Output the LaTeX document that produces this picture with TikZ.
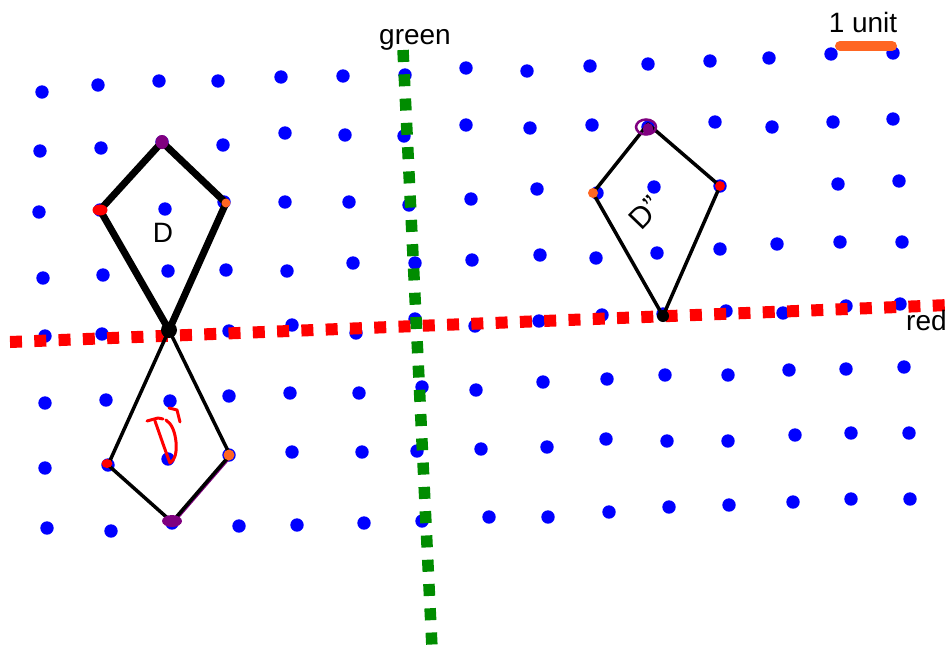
\documentclass[tikz,border=0pt]{standalone}
\usepackage{fontspec}
\setmainfont{Liberation Sans}
\definecolor{dotblue}{RGB}{0,0,255}
\definecolor{linered}{RGB}{255,0,0}
\definecolor{linegreen}{RGB}{0,140,0}
\definecolor{barorange}{RGB}{255,102,34}
\definecolor{vpurple}{RGB}{128,0,128}
\tikzset{
  bdot/.style={fill=dotblue},
  reddash/.style={draw=linered,line width=12,dash pattern=on 12 off 12.3},
  greendash/.style={draw=linegreen,line width=11.5,dash pattern=on 12 off 12.3},
  thickkite/.style={draw=black,line width=7,line join=round},
  thinkite/.style={draw=black,line width=3.5,line join=round},
  lbl/.style={font=\fontsize{28}{30}\selectfont,inner sep=0,anchor=base},
  pen/.style={line width=3,line cap=round,line join=round}
}
\begin{document}
\begin{tikzpicture}[x=1pt,y=-1pt]
\useasboundingbox[fill=white] (0,0) rectangle (949,648);
% blue dot grid
\foreach \p in {
 (42,92),(98,85),(159,81),(218,81),(281,77),(343,76),(405,75),(466,68),(527,71),(590,66),(648,64),(710,61),(769,58),(831,54),(893,53),
 (40,151),(101,148),(162,142),(223,145),(285,133),(345,135),(404,136),(466,125),(530,128),(592,125),(648,127),(715,122),(772,127),(833,122),(893,119),
 (39,212),(100,210),(165,209),(224,202),(285,202),(349,202),(409,205),(471,199),(537,189),(597,193),(654,187),(720,186),(838,184),(899,181),
 (43,278),(103,275),(168,271),(226,270),(287,271),(353,263),(415,263),(472,260),(540,255),(596,258),(657,253),(720,249),(777,244),(840,242),(902,242),
 (45,336),(102,334),(169,330),(229,331),(292,325),(356,333),(415,319),(475,326),(539,321),(602,315),(663,314),(726,311),(783,313),(846,306),(900,304),
 (45,403),(106,400),(170,401),(229,396),(290,393),(359,393),(422,387),(476,390),(543,382),(607,379),(665,375),(728,375),(789,370),(846,369),(904,367),
 (45,468),(108,465),(168,459),(229,455),(292,452),(362,452),(417,451),(481,449),(547,447),(606,439),(667,441),(728,441),(795,435),(851,433),(909,433),
 (47,528),(111,531),(172,523),(239,526),(297,525),(364,523),(422,521),(489,517),(548,517),(609,512),(669,507),(729,505),(793,502),(851,499),(910,499)}
 \fill[bdot] \p circle (6.7);
% mirror lines
\coordinate (r1) at (10,342);
\coordinate (r2) at (949,305);
\coordinate (g1) at (403,50);
\coordinate (g2) at (432,648);
\draw[reddash] (r1) -- (r2);
\draw[greendash] (g1) -- (g2);
% scale bar
\coordinate (s1) at (840,46);
\coordinate (s2) at (892,46);
\draw[barorange,line width=10,line cap=round] (s1) -- (s2);
% kite D
\coordinate (dT) at (162,142);
\coordinate (dL) at (100,210);
\coordinate (dR) at (226,203);
\coordinate (dB) at (169,330);
\draw[thickkite] (dT) -- (dR) -- (dB) -- (dL) -- cycle;
% kite D'
\coordinate (pL) at (108,465);
\coordinate (pR) at (230,455);
\coordinate (pB) at (172,522);
\draw[vpurple,line width=2] ([xshift=1.5pt,yshift=-1pt]pB) -- ([xshift=1.5pt,yshift=-1pt]pR);
\draw[thinkite] (dB) -- (pR) -- (pB) -- (pL) -- cycle;
% kite D''
\coordinate (qT) at (648,124);
\coordinate (qL) at (593,193);
\coordinate (qR) at (720,186);
\coordinate (qB) at (663,316);
\draw[thinkite] (qT) -- (qR) -- (qB) -- (qL) -- cycle;
% vertex markers
\fill[vpurple] (dT) ellipse (6.5 and 7);
\fill[linered] (dL) ellipse (7.5 and 5.5);
\fill[barorange] (dR) circle (4.5);
\fill[black] (dB) circle (8);
\fill[linered] ([xshift=-1pt,yshift=1.5pt]pL) ellipse (5.5 and 4.5);
\fill[barorange] ([xshift=-1pt]pR) circle (5.5);
\fill[vpurple] ([yshift=1pt]pB) ellipse (10 and 6);
\fill[vpurple] ([yshift=-5pt]qT) ellipse (5 and 6);
\draw[vpurple,line width=2.5] (646,127) ellipse (10 and 7.5);
\fill[barorange] (qL) circle (5);
\fill[linered] (qR) circle (5);
\fill[black] (qB) circle (6);
% labels
\node[lbl] (tgreen) at (415,44) {green};
\node[lbl,anchor=base west] (tred) at (906,330) {red};
\node[lbl] (tunit) at (863,32) {1 unit};
\node[lbl] (tD) at (163,242) {D};
\node[lbl,anchor=center,rotate=46,font=\fontsize{30}{32}\selectfont] (tDpp) at (645,213) {D\textquotedblright};
% handwritten D'
\draw[linered,pen] (147,421) -- (158,418) -- (163,419);
\draw[linered,pen] (155,421) .. controls (160,435) and (165,450) .. (170,463)
  .. controls (175,460) and (177,452) .. (176,442)
  .. controls (175,432) and (172,424) .. (166,420);
\draw[linered,pen] (169,408) -- (177,410) -- (180,422);
\end{tikzpicture}
\end{document}
